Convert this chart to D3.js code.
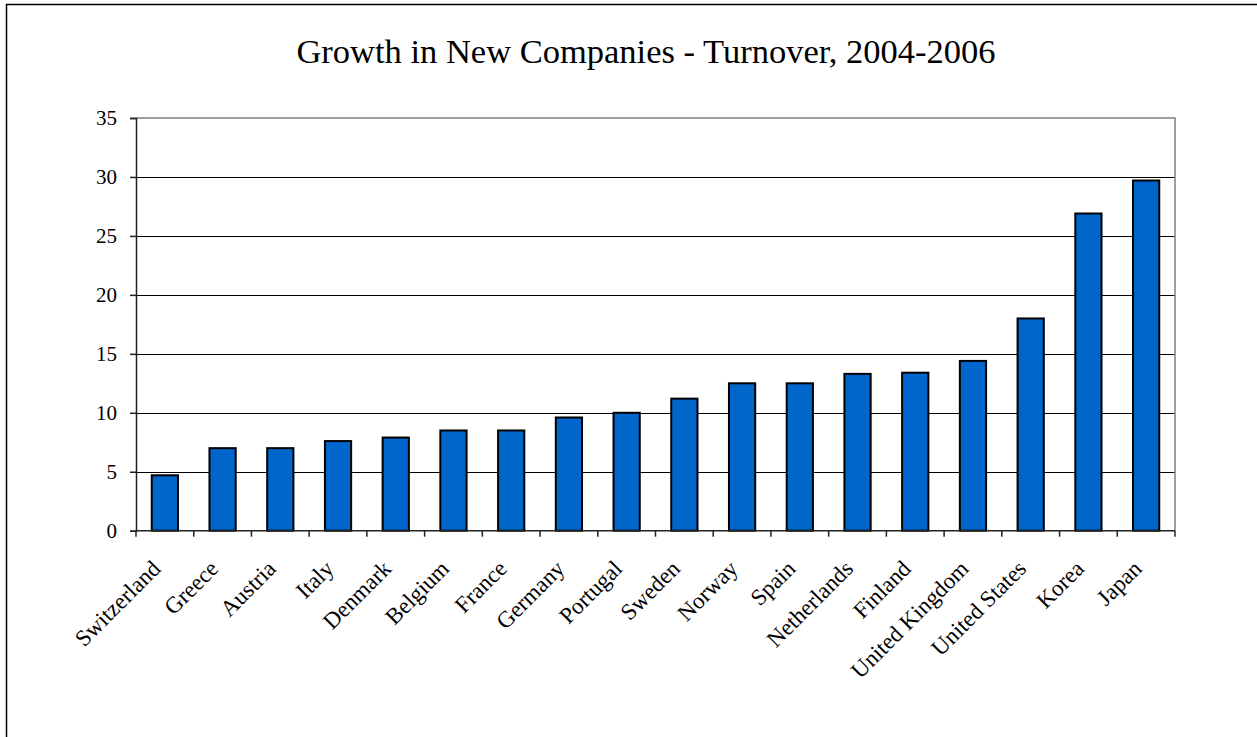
<!DOCTYPE html>
<html>
<head>
<meta charset="utf-8">
<script src="https://cdn.jsdelivr.net/npm/d3@7"></script>
<style>
  html, body { margin: 0; padding: 0; background: #fff; }
  svg { display: block; }
  text { font-family: "Liberation Serif", "Times New Roman", serif; fill: #000; }
</style>
</head>
<body>
<svg id="chart" width="1257" height="737"></svg>
<script>
// Growth in turnover of new companies, 2004-2006 (%)
const countries = ["Switzerland", "Greece", "Austria", "Italy", "Denmark", "Belgium",
  "France", "Germany", "Portugal", "Sweden", "Norway", "Spain", "Netherlands",
  "Finland", "United Kingdom", "United States", "Korea", "Japan"];
const growth = [4.7, 7.0, 7.0, 7.6, 7.9, 8.5, 8.5, 9.6, 10.0, 11.2, 12.5, 12.5,
  13.3, 13.4, 14.4, 18.0, 26.9, 29.7];
const yTicks = [0, 5, 10, 15, 20, 25, 30, 35];
const title = "Growth in New Companies - Turnover, 2004-2006";

const svg = d3.select("#chart");
const plot = { left: 136, right: 1175, top: 118, bottom: 530.7 };

// outer chart frame
svg.append("rect")
  .attr("x", 6.5).attr("y", 4.5)
  .attr("width", 1400).attr("height", 900)
  .attr("fill", "#fff").attr("stroke", "#000").attr("stroke-width", 1.5);

const x = d3.scaleBand()
  .domain(countries)
  .range([plot.left, plot.right])
  .paddingInner(0.5455)
  .paddingOuter(0.5455 / 2);

const y = d3.scaleLinear().domain([0, 35]).range([plot.bottom, plot.top]);

// title
svg.append("text")
  .attr("x", 646).attr("y", 63)
  .attr("text-anchor", "middle")
  .style("font-size", "34.5px")
  .text(title);

// horizontal gridlines
svg.append("g").selectAll("line")
  .data(yTicks.filter(d => d > 0 && d < 35))
  .join("line")
  .attr("x1", plot.left).attr("x2", plot.right)
  .attr("y1", d => Math.round(y(d)) + 0.5).attr("y2", d => Math.round(y(d)) + 0.5)
  .attr("stroke", "#000").attr("stroke-width", 1);

// plot area border (top and right)
svg.append("path")
  .attr("d", `M${plot.left},${y(35)}H${plot.right}V${plot.bottom}`)
  .attr("fill", "none").attr("stroke", "#808080").attr("stroke-width", 1.5);

// bars
svg.append("g").selectAll("rect")
  .data(countries.map((c, i) => ({ c, v: growth[i] })))
  .join("rect")
  .attr("x", d => x(d.c))
  .attr("width", x.bandwidth())
  .attr("y", d => y(d.v))
  .attr("height", d => y(0) - y(d.v))
  .attr("fill", "#0066CC")
  .attr("stroke", "#000").attr("stroke-width", 2);

// y axis
const yAxis = d3.axisLeft(y).tickValues(yTicks).tickSize(6).tickPadding(13)
  .tickFormat(d3.format("d"));
const gy = svg.append("g").attr("transform", `translate(${plot.left},0)`).call(yAxis);
gy.select(".domain").attr("stroke", "#222").attr("stroke-width", 1.5);
gy.selectAll(".tick line").attr("stroke", "#222").attr("stroke-width", 1.5);
gy.selectAll(".tick text")
  .style("font-family", "'Liberation Serif', 'Times New Roman', serif")
  .style("font-size", "21px").attr("fill", "#000");

// x axis: tick marks on category boundaries
const step = x.step();
const boundaries = countries.map(c => x(c) - (step - x.bandwidth()) / 2).concat([plot.right]);
const gx = svg.append("g");
gx.append("line")
  .attr("x1", plot.left).attr("x2", plot.right)
  .attr("y1", plot.bottom).attr("y2", plot.bottom)
  .attr("stroke", "#222").attr("stroke-width", 1.5);
gx.selectAll("line.tick")
  .data(boundaries)
  .join("line")
  .attr("class", "tick")
  .attr("x1", d => d).attr("x2", d => d)
  .attr("y1", plot.bottom).attr("y2", plot.bottom + 6)
  .attr("stroke", "#222").attr("stroke-width", 1.5);

// rotated category labels
gx.selectAll("text")
  .data(countries)
  .join("text")
  .attr("text-anchor", "end")
  .attr("transform", d => `translate(${x(d) + x.bandwidth() / 2 - 3},570) rotate(-45)`)
  .style("font-size", "23px")
  .text(d => d);
</script>
</body>
</html>
